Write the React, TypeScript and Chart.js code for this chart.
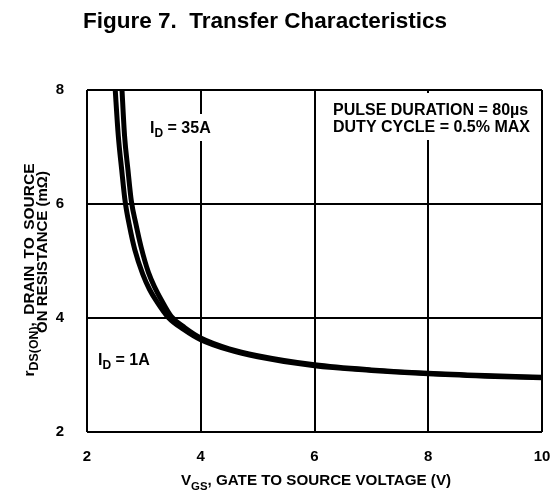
import React, { useEffect, useRef } from 'react';
import { Chart, registerables } from 'chart.js';

Chart.register(...registerables);

const FONT = '"Liberation Sans", Arial, Helvetica, sans-serif';

// I_D = 1A curve (left one at the top)
const vgs1A = [2.49, 2.55, 2.61, 2.67, 2.75, 2.84, 2.98, 3.1, 3.22, 3.43, 3.7, 4.0, 4.5, 5.0, 6.0, 7.0, 8.0, 9.0, 10.0];
const rds1A = [8.1, 7.2, 6.6, 6.05, 5.6, 5.2, 4.77, 4.5, 4.3, 4.01, 3.8, 3.62, 3.44, 3.32, 3.16, 3.08, 3.02, 2.98, 2.95];

// I_D = 35A curve (right one at the top)
const vgs35A = [2.61, 2.66, 2.72, 2.78, 2.86, 2.95, 3.08, 3.2, 3.3, 3.48, 3.72, 4.0, 4.5, 5.0, 6.0, 7.0, 8.0, 9.0, 10.0];
const rds35A = [8.1, 7.2, 6.6, 6.05, 5.65, 5.25, 4.8, 4.52, 4.33, 4.03, 3.83, 3.65, 3.46, 3.34, 3.18, 3.09, 3.03, 2.99, 2.96];

const xTicks = [2, 4, 6, 8, 10];
const yTicks = [2, 4, 6, 8];

const titleText = 'Figure 7.  Transfer Characteristics';
const pulseLines = ['PULSE DURATION = 80\u00b5s', 'DUTY CYCLE = 0.5% MAX'];

type Seg = { t: string; sub?: boolean };

function drawRich(
  ctx: CanvasRenderingContext2D,
  segs: Seg[],
  x: number,
  yCenter: number,
  size: number,
  align: 'center' | 'left',
  subScale = 0.75,
  wordGap = 0
) {
  const subSize = size * subScale;
  const c: any = ctx;
  c.wordSpacing = `${wordGap}px`;
  let total = 0;
  const widths = segs.map((s) => {
    ctx.font = `bold ${s.sub ? subSize : size}px ${FONT}`;
    const w = ctx.measureText(s.t).width;
    total += w;
    return w;
  });
  let cx = align === 'center' ? x - total / 2 : x;
  const base = yCenter + size * 0.36;
  ctx.textAlign = 'left';
  ctx.textBaseline = 'alphabetic';
  segs.forEach((s, i) => {
    ctx.font = `bold ${s.sub ? subSize : size}px ${FONT}`;
    ctx.fillText(s.t, cx, s.sub ? base + size * 0.28 : base);
    cx += widths[i];
  });
  c.wordSpacing = '0px';
}

const annotations = {
  id: 'annotations',
  afterDraw(chart: any) {
    const ctx: CanvasRenderingContext2D = chart.ctx;
    ctx.save();
    // title
    ctx.fillStyle = '#000';
    ctx.font = `bold 22.5px ${FONT}`;
    ctx.textAlign = 'center';
    ctx.textBaseline = 'middle';
    ctx.fillText(titleText, 265, 22);

    // I_D = 35A label with white box
    ctx.fillStyle = '#fff';
    ctx.fillRect(148, 114, 66, 27);
    ctx.fillStyle = '#000';
    drawRich(ctx, [{ t: 'I' }, { t: 'D', sub: true }, { t: ' = 35A' }], 150, 127, 16, 'left');

    // I_D = 1A label
    drawRich(ctx, [{ t: 'I' }, { t: 'D', sub: true }, { t: ' = 1A' }], 98, 359, 16, 'left');

    // pulse box
    ctx.fillStyle = '#fff';
    ctx.fillRect(330, 93, 210, 47);
    ctx.fillStyle = '#000';
    ctx.font = `bold 16px ${FONT}`;
    ctx.textAlign = 'left';
    ctx.textBaseline = 'middle';
    ctx.fillText(pulseLines[0], 333, 111);
    ctx.fillText(pulseLines[1], 333, 127.5);

    // x-axis title
    drawRich(ctx, [{ t: 'V' }, { t: 'GS', sub: true }, { t: ', GATE TO SOURCE VOLTAGE (V)' }], 316, 480, 15.2, 'center');

    // y-axis title (rotated)
    ctx.save();
    ctx.translate(28, 270);
    ctx.rotate(-Math.PI / 2);
    drawRich(ctx, [{ t: 'r' }, { t: 'DS(ON)', sub: true }, { t: ', DRAIN TO SOURCE' }], 0, 0, 15.5, 'center', 0.8, 3);
    ctx.restore();
    ctx.save();
    ctx.translate(42, 252);
    ctx.rotate(-Math.PI / 2);
    drawRich(ctx, [{ t: 'ON RESISTANCE (m\u03a9)' }], 0, 0, 15, 'center');
    ctx.restore();

    ctx.restore();
  },
};

export default function App() {
  const ref = useRef<HTMLCanvasElement>(null);
  useEffect(() => {
    if (!ref.current) return;
    const tickFont = { family: FONT, size: 15, weight: 'bold' as const };
    const chart = new Chart(ref.current, {
      type: 'line',
      data: {
        datasets: [
          {
            label: 'ID = 1A',
            data: vgs1A.map((x, i) => ({ x, y: rds1A[i] })),
            borderColor: '#000',
            borderWidth: 5,
            pointRadius: 0,
            cubicInterpolationMode: 'monotone',
            fill: false,
            clip: 0,
          },
          {
            label: 'ID = 35A',
            data: vgs35A.map((x, i) => ({ x, y: rds35A[i] })),
            borderColor: '#000',
            borderWidth: 5,
            pointRadius: 0,
            cubicInterpolationMode: 'monotone',
            fill: false,
            clip: 0,
          },
        ],
      },
      options: {
        animation: false,
        responsive: false,
        maintainAspectRatio: false,
        layout: { padding: { top: 90, right: 10, left: 0, bottom: 0 } },
        plugins: {
          legend: { display: false },
          tooltip: { enabled: false },
        },
        scales: {
          x: {
            type: 'linear',
            min: 2,
            max: 10,
            afterBuildTicks: (s: any) => {
              s.ticks = xTicks.map((v) => ({ value: v }));
            },
            ticks: { color: '#000', font: tickFont, padding: 16, maxRotation: 0 },
            grid: { color: '#000', lineWidth: 2, drawTicks: false },
            border: { display: false },
            afterFit: (s: any) => {
              s.height = 64;
              s.paddingLeft = 0;
              s.paddingRight = 0;
            },
          },
          y: {
            type: 'linear',
            min: 2,
            max: 8,
            afterBuildTicks: (s: any) => {
              s.ticks = yTicks.map((v) => ({ value: v }));
            },
            ticks: { color: '#000', font: tickFont, padding: 23 },
            grid: { color: '#000', lineWidth: 2, drawTicks: false },
            border: { display: false },
            afterFit: (s: any) => {
              s.width = 87;
              s.paddingTop = 0;
              s.paddingBottom = 0;
            },
          },
        },
      } as any,
      plugins: [annotations],
    });
    return () => chart.destroy();
  }, []);
  return (
    <div style={{ position: 'absolute', left: 0, top: 0, width: 552, height: 496, background: '#fff' }}>
      <canvas ref={ref} width={552} height={496} />
    </div>
  );
}
